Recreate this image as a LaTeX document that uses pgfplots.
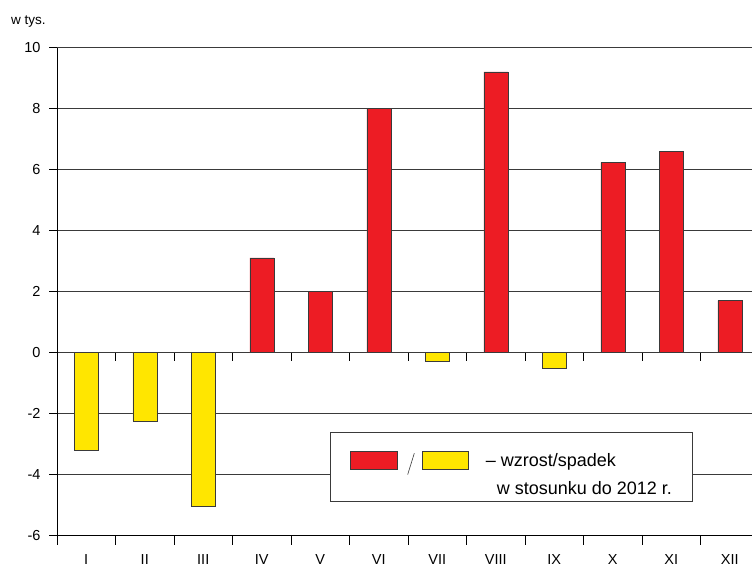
\documentclass[border=0pt]{standalone}
\usepackage{fontspec}
\setmainfont{Liberation Sans}
\usepackage{pgfplots}
\pgfplotsset{compat=1.18}

\definecolor{barred}{HTML}{ED1C24}
\definecolor{baryel}{HTML}{FFE600}
\definecolor{gridgray}{HTML}{3A3A3A}

\begin{document}
\begin{tikzpicture}
% page size fixed to the reference (752 x 566)
\useasboundingbox (-57pt,-30.5pt) rectangle (695pt,535.5pt);
\begin{axis}[
    scale only axis,
    width=702pt, height=488pt,
    xmin=-0.5, xmax=11.5,
    ymin=-6, ymax=10,
    clip=false,
    axis x line*=bottom,
    axis y line*=left,
    axis line style={black, line width=0.8pt},
    ytick={-6,-4,...,10},
    yticklabels={-6,-4,-2,0,2,4,6,8,10},
    xtick={0,...,11},
    xticklabels={I,II,III,IV,V,VI,VII,VIII,IX,X,XI,XII},
    minor xtick={-0.5,0.5,...,11.5},
    tick align=outside,
    major tick length=8pt,
    minor tick length=9pt,
    major x tick style={draw=none},
    minor x tick style={black, line width=0.6pt},
    ytick style={black, line width=0.6pt},
    ymajorgrids,
    grid style={gridgray, line width=0.8pt},
    ticklabel style={font=\fontsize{14.5}{17}\selectfont},
    yticklabel style={xshift=-5pt},
    xticklabel style={yshift=-7pt},
    ybar, bar width=24pt,
]
% growth (red) and decline (yellow), thousands
\addplot[fill=barred, draw=gridgray, line width=0.5pt, bar shift=0pt] coordinates {
    (3,3.1) (4,2.0) (5,8.0) (7,9.2) (9,6.23) (10,6.6) (11,1.7)
};
\addplot[fill=baryel, draw=gridgray, line width=0.5pt, bar shift=0pt] coordinates {
    (0,-3.2) (1,-2.25) (2,-5.05) (6,-0.3) (8,-0.5)
};

% small ticks under the zero line
\pgfplotsinvokeforeach{0.5,1.5,2.5,3.5,4.5,5.5,6.5,7.5,8.5,9.5,10.5}{
    \draw[black, line width=0.6pt] (axis cs:#1,0) -- ++(0pt,-8pt);
}

% legend box
\draw[gridgray, fill=white, line width=0.8pt]
    (axis cs:4.179,-2.613) rectangle (axis cs:10.355,-4.875);
\draw[gridgray, fill=barred, line width=0.5pt]
    (axis cs:4.509,-3.246) rectangle (axis cs:5.312,-3.836);
\draw[gridgray, line width=0.6pt]
    (axis cs:5.495,-4.0) -- (axis cs:5.608,-3.302);
\draw[gridgray, fill=baryel, line width=0.5pt]
    (axis cs:5.744,-3.246) rectangle (axis cs:6.538,-3.836);
\node[anchor=base west, inner sep=0pt, font=\fontsize{18}{21}\selectfont]
    at (axis cs:6.828,-3.728) {– wzrost/spadek};
\node[anchor=base west, inner sep=0pt, font=\fontsize{18}{21}\selectfont]
    at (axis cs:7.016,-4.656) {w stosunku do 2012 r.};

\node[anchor=base west, inner sep=0pt, font=\fontsize{13.5}{16}\selectfont]
    at (axis cs:-1.286,10.754) {w tys.};
\end{axis}
\end{tikzpicture}
\end{document}
